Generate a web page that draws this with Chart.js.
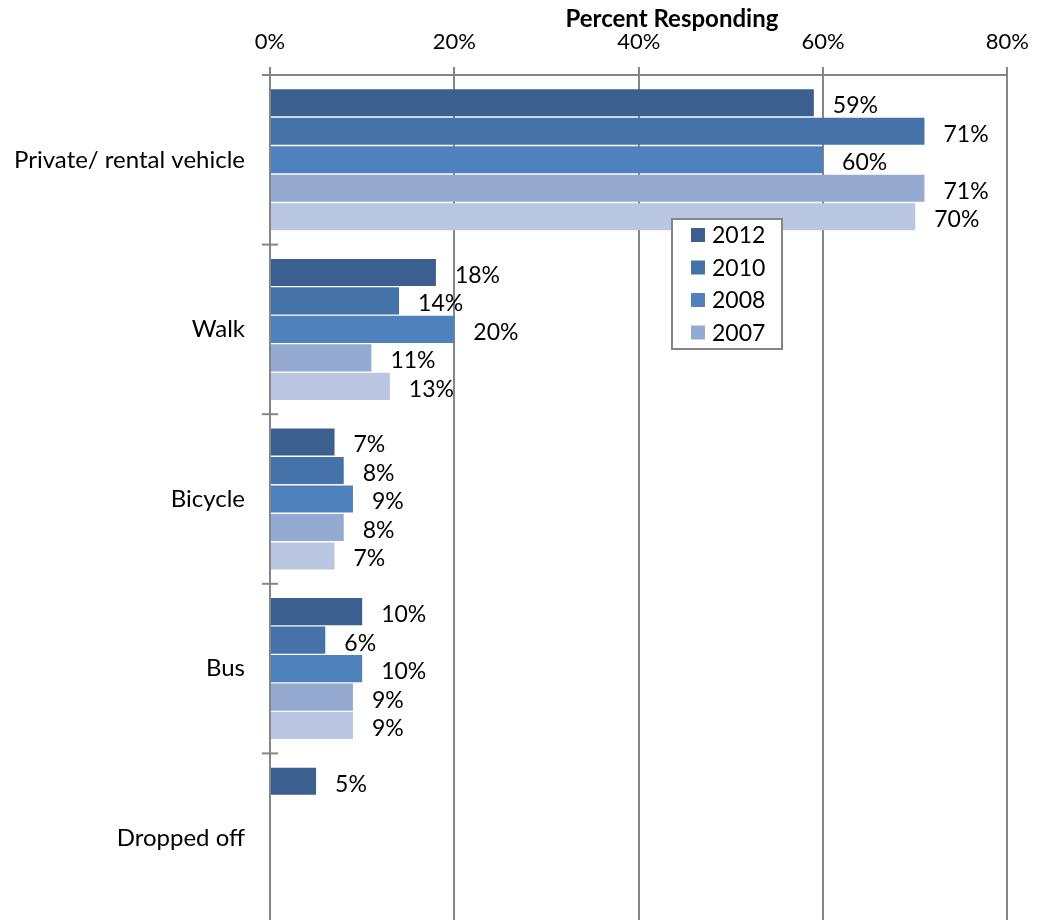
<!DOCTYPE html>
<html>
<head>
<meta charset="utf-8">
<script src="https://cdn.jsdelivr.net/npm/chart.js@4"></script>
<style>
  html, body { margin: 0; padding: 0; overflow: hidden; background: #fff; }
  canvas { display: block; }
</style>
</head>
<body>
<canvas id="js--modes" width="1041" height="923"></canvas>
<script>
const categories = ['Private/ rental vehicle', 'Walk', 'Bicycle', 'Bus', 'Dropped off'];

const years = ['2012', '2010', '2008', '2007', '2006'];
const legendYears = ['2012', '2010', '2008', '2007'];

const pct2012 = [59, 18, 7, 10, 5];
const pct2010 = [71, 14, 8, 6, null];
const pct2008 = [60, 20, 9, 10, null];
const pct2007 = [71, 11, 8, 9, null];
const pct2006 = [70, 13, 7, 9, null];

const xTicks = [0, 20, 40, 60, 80];

const colors = ['#3B5F8E', '#4573A9', '#4F81BD', '#95AAD1', '#B9C7E2'];
const gridGray = '#868686';
const font = 'Lato';

const series = [pct2012, pct2010, pct2008, pct2007, pct2006];

const datasets = series.map(function (vals, i) {
  return {
    label: years[i],
    data: vals,
    backgroundColor: colors[i],
    borderWidth: 0,
    categoryPercentage: 0.84,
    barPercentage: 0.95
  };
});

// value labels to the right of every bar
const barLabels = {
  id: 'barLabels',
  afterDatasetsDraw(chart) {
    const ctx = chart.ctx;
    ctx.save();
    ctx.font = '23px ' + font;
    ctx.fillStyle = '#000';
    ctx.textAlign = 'left';
    ctx.textBaseline = 'middle';
    chart.data.datasets.forEach(function (ds, i) {
      chart.getDatasetMeta(i).data.forEach(function (bar, j) {
        if (ds.data[j] == null) return;
        ctx.fillText(ds.data[j] + '%', bar.x + 19, bar.y + 3);
      });
    });
    ctx.restore();
  }
};

// small cross ticks on the category axis, the title, the legend box
const extras = {
  id: 'extras',
  afterDraw(chart) {
    const ctx = chart.ctx;
    const y = chart.scales.y;
    const area = chart.chartArea;
    const band = y.getPixelForValue(1) - y.getPixelForValue(0);
    ctx.save();
    ctx.strokeStyle = gridGray;
    ctx.lineWidth = 2;
    for (let i = 0; i < categories.length; i++) {
      const top = y.getPixelForValue(i) - band / 2;
      ctx.beginPath();
      ctx.moveTo(area.left - 8, top);
      ctx.lineTo(area.left + 8, top);
      ctx.stroke();
    }

    ctx.font = 'bold 24px ' + font;
    ctx.fillStyle = '#000';
    ctx.textAlign = 'center';
    ctx.textBaseline = 'middle';
    ctx.fillText('Percent Responding', area.left + (area.right - area.left) * 0.545, 19);

    const bx = 672, by = 219, bw = 110, bh = 130;
    ctx.fillStyle = '#fff';
    ctx.fillRect(bx, by, bw, bh);
    ctx.strokeStyle = gridGray;
    ctx.strokeRect(bx, by, bw, bh);
    ctx.font = '23px ' + font;
    ctx.textAlign = 'left';
    legendYears.forEach(function (yr, i) {
      const idx = years.indexOf(yr);
      const cy = by + 16 + i * 32.5;
      ctx.fillStyle = colors[idx];
      ctx.fillRect(bx + 19, cy - 7, 14, 14);
      ctx.fillStyle = '#000';
      ctx.fillText(yr, bx + 40, cy + 1);
    });
    ctx.restore();
  }
};

const config = {
  type: 'bar',
  data: { labels: categories, datasets: datasets },
  options: {
    indexAxis: 'y',
    responsive: false,
    animation: false,
    layout: { padding: { top: 0, right: 31, bottom: 0, left: 0 } },
    plugins: {
      legend: { display: false },
      tooltip: { enabled: false }
    },
    scales: {
      x: {
        position: 'top',
        min: 0,
        max: 80,
        afterBuildTicks(scale) {
          scale.ticks = xTicks.map(function (v) { return { value: v }; });
        },
        afterFit(scale) { scale.height = 75; },
        ticks: {
          color: '#000',
          font: { family: font, size: 22 },
          padding: 12,
          callback: function (v) { return v + '%'; }
        },
        grid: { color: gridGray, lineWidth: 2, tickLength: 8 },
        border: { display: true, color: gridGray, width: 2 }
      },
      y: {
        afterFit(scale) {
          scale.width = 270;
          scale.paddingTop = 0;
          scale.paddingBottom = 0;
        },
        ticks: {
          color: '#000',
          font: { family: font, size: 24 },
          padding: 17
        },
        grid: { display: false },
        border: { display: true, color: gridGray, width: 2 }
      }
    }
  },
  plugins: [barLabels, extras]
};

const chart1 = new Chart(document.getElementById('js--modes'), config);
</script>
</body>
</html>
